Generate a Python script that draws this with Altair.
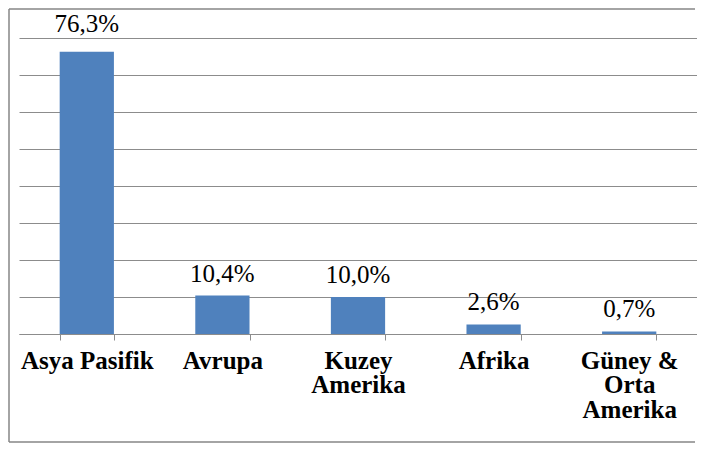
import altair as alt
import pandas as pd

# Data
regions = ["Asya Pasifik", "Avrupa", "Kuzey\nAmerika", "Afrika", "Güney &\nOrta\nAmerika"]
shares = [76.3, 10.4, 10.0, 2.6, 0.7]
grid_values = [0, 10, 20, 30, 40, 50, 60, 70, 80]

df = pd.DataFrame({"region": regions, "share": shares})

W, H = 678, 296
BAR = "#4F81BD"
GRID = "#8c8c8c"
FONT = "Liberation Serif"

x_enc = alt.X(
    "region:N",
    sort=regions,
    scale=alt.Scale(paddingInner=0.6, paddingOuter=0.3),
    axis=alt.Axis(
        title=None,
        labelAngle=0,
        labelExpr="split(datum.label, '\\n')",
        labelFont=FONT,
        labelFontSize=25,
        labelFontWeight="bold",
        labelColor="#000000",
        labelLineHeight=24.5,
        labelPadding=8,
        labelBaseline="top",
        tickBand="extent",
        tickSize=6,
        tickColor=GRID,
        domainColor=GRID,
        domainWidth=1,
        grid=False,
    ),
)
y_enc = alt.Y(
    "share:Q",
    scale=alt.Scale(domain=[0, 80], nice=False),
    axis=alt.Axis(
        title=None,
        labels=False,
        ticks=False,
        domain=False,
        grid=True,
        values=grid_values,
        gridColor=GRID,
        gridWidth=1,
    ),
)

base = alt.Chart(df).encode(x=x_enc, y=y_enc)

bars = base.mark_bar(color=BAR)

label_calc = "replace(format(datum.share, '.1f'), '.', ',') + '%'"

labels_low = (
    base.transform_filter("datum.share <= 50")
    .transform_calculate(label=label_calc)
    .mark_text(baseline="alphabetic", dy=-14, font=FONT, fontSize=25, color="#000000")
    .encode(text="label:N")
)
labels_high = (
    base.transform_filter("datum.share > 50")
    .transform_calculate(label=label_calc)
    .mark_text(baseline="alphabetic", dy=-20, font=FONT, fontSize=25, color="#000000")
    .encode(text="label:N")
)

one = pd.DataFrame({"z": [0]})
frame_style = dict(color="#868686", strokeWidth=1.5)
frame_top = alt.Chart(one).mark_rule(**frame_style).encode(
    x=alt.value(-10), x2=alt.value(W - 2), y=alt.value(-29)
)
frame_left = alt.Chart(one).mark_rule(**frame_style).encode(
    x=alt.value(-10), y=alt.value(-29), y2=alt.value(H + 108)
)
frame_bottom = alt.Chart(one).mark_rule(**frame_style).encode(
    x=alt.value(-10), x2=alt.value(W - 2), y=alt.value(H + 108)
)

chart = (
    alt.layer(frame_top, frame_left, frame_bottom, bars, labels_low, labels_high)
    .properties(
        width=W,
        height=H,
        autosize=alt.AutoSizeParams(type="none"),
        padding={"left": 11, "top": 30, "right": 0, "bottom": 109},
        background="#ffffff",
    )
    .configure_view(stroke=None)
)

chart.save("out.html", embed_options={"renderer": "svg", "actions": False})
